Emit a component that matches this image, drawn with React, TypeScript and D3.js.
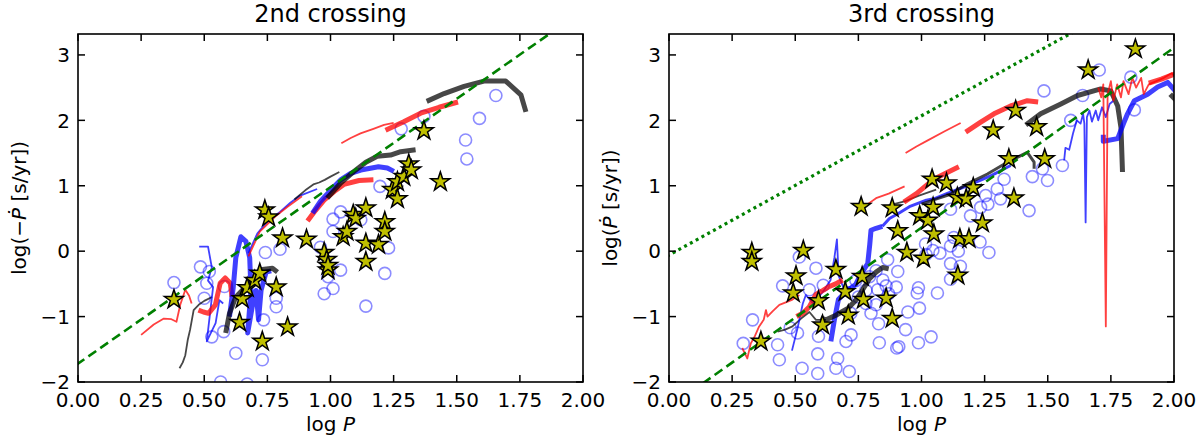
import React from 'react';
import * as d3 from 'd3';

type Pt = [number, number];

// ---- observed stars (yellow) ----
const leftStars: Pt[] = [
  [0.38, -0.74], [0.64, -1.09], [0.65, -0.73], [0.67, -0.56], [0.70, -0.45], [0.72, -0.34],
  [0.73, -1.38], [0.74, 0.63], [0.755, 0.52], [0.785, -0.55], [0.81, 0.20], [0.83, -1.16],
  [0.905, 0.18], [0.975, -0.02], [0.985, -0.13], [0.99, -0.29], [0.99, -0.22], [1.05, 0.22],
  [1.065, 0.30], [1.09, 0.56], [1.10, 0.50], [1.14, 0.66], [1.14, 0.12], [1.14, -0.16],
  [1.19, 0.10], [1.215, 0.45], [1.215, 0.30], [1.245, 0.94], [1.265, 1.06], [1.265, 0.80],
  [1.29, 1.14], [1.31, 1.33], [1.32, 1.24], [1.37, 1.84], [1.435, 1.06],
];

const rightStars: Pt[] = [
  [0.328, -0.02], [0.328, -0.16], [0.364, -1.38], [0.492, -0.64], [0.503, -0.38], [0.532, 0.01],
  [0.592, -0.76], [0.608, -1.13], [0.661, -0.28], [0.698, -0.62], [0.71, -0.98], [0.765, -0.39],
  [0.77, -0.74], [0.761, 0.68], [0.86, -0.72], [0.884, -1.03], [0.884, 0.66], [0.906, 0.31],
  [0.942, -0.02], [0.993, 0.54], [1.008, -0.11], [1.025, 0.47], [1.042, 1.10], [1.046, 0.67],
  [1.049, 0.26], [1.099, 1.04], [1.142, 0.82], [1.144, -0.37], [1.152, 0.19], [1.177, 0.80],
  [1.188, 0.19], [1.205, 0.97], [1.241, 0.43], [1.284, 1.85], [1.346, 1.41], [1.366, 0.81],
  [1.373, 2.15], [1.456, 1.90], [1.488, 1.41], [1.66, 2.77], [1.847, 3.09],
];

// ---- open circles (blue) ----
const leftCircles: Pt[] = [
  [0.38, -0.48], [0.485, -0.24], [0.51, -0.49], [0.52, -0.31], [0.50, -0.72], [0.58, -0.54],
  [0.53, -1.31], [0.577, -1.23], [0.625, -1.56], [0.565, -2.0], [0.67, -2.03], [0.73, -1.66],
  [0.735, -1.05], [0.785, -0.85], [0.785, -0.72], [0.742, -0.02], [0.80, 0.03], [0.96, 0.06],
  [1.01, 0.49], [1.04, 0.60], [1.01, 0.30], [1.12, 0.48], [1.04, -0.29], [0.99, -0.39],
  [1.01, -0.57], [0.975, -0.65], [1.14, -0.84], [1.196, 0.99], [1.23, 0.05], [1.215, -0.34],
  [1.28, 1.87], [1.37, 2.06], [1.535, 1.70], [1.54, 1.41], [1.59, 2.03], [1.655, 2.38],
];

const rightCircles: Pt[] = [
  [0.294, -1.41], [0.331, -1.05], [0.43, -1.43], [0.437, -1.66], [0.45, -0.53], [0.48, -1.17],
  [0.509, -1.25], [0.516, -0.09], [0.527, -1.79], [0.556, -0.59], [0.582, -0.26], [0.589, -1.57],
  [0.589, -1.87], [0.592, -1.30], [0.611, -0.52], [0.661, -1.79], [0.668, -1.64], [0.701, -1.38],
  [0.714, -1.84], [0.721, -1.28], [0.72, -0.95], [0.74, -0.45], [0.75, -0.70], [0.78, -0.60],
  [0.78, -0.80], [0.794, -0.39], [0.80, -0.95], [0.82, -0.82], [0.82, -0.30], [0.827, -0.59],
  [0.83, -1.11], [0.833, -1.40], [0.847, -0.44], [0.86, -0.53], [0.866, -0.13], [0.87, -0.65],
  [0.90, -0.55], [0.902, -1.48], [0.906, -0.31], [0.91, -1.46], [0.937, -1.20], [0.946, -0.93],
  [0.983, -0.64], [0.988, -0.56], [0.992, -0.87], [0.988, -1.40], [1.038, -1.31], [1.063, -0.64],
  [1.018, -0.05], [1.016, 0.11], [1.045, 0.01], [1.073, -0.03], [1.115, 0.08], [1.115, -0.19],
  [1.115, -0.43], [1.128, 0.21], [1.146, 0.0], [1.154, -0.23], [1.115, 0.64], [1.194, 0.54],
  [1.232, 0.14], [1.267, -0.02], [1.234, 0.67], [1.254, 0.85], [1.263, 0.72], [1.30, 0.95],
  [1.313, 0.80], [1.327, 1.10], [1.426, 0.62], [1.439, 1.14], [1.479, 1.26], [1.499, 1.08],
  [1.558, 1.31], [1.485, 2.45], [1.591, 2.00], [1.638, 2.38], [1.704, 2.77], [1.829, 2.66],
  [1.843, 2.16],
];

// ---- model tracks, 2nd crossing ----
const lRedThinA: Pt[] = [[0.25, -1.28], [0.30, -1.12], [0.34, -1.03], [0.37, -1.04], [0.39, -1.08], [0.405, -0.82], [0.425, -0.59], [0.44, -0.68], [0.45, -0.80]];
const lGrayThinA: Pt[] = [[0.402, -1.79], [0.415, -1.70], [0.425, -1.59], [0.435, -1.35], [0.444, -1.20], [0.458, -0.90], [0.478, -0.82], [0.50, -0.76], [0.531, -0.70]];
const lRedThickA: Pt[] = [[0.477, -0.90], [0.497, -0.93], [0.517, -0.95], [0.544, -0.82], [0.563, -0.49], [0.583, -0.41], [0.603, -0.49], [0.61, -0.70]];
const lBlueThinA: Pt[] = [[0.48, 0.07], [0.515, 0.07], [0.53, -0.25], [0.515, -0.45], [0.535, -0.55], [0.51, -1.38], [0.545, -1.10], [0.56, -0.75], [0.575, -0.80]];
const lBlueThickA: Pt[] = [[0.60, -1.0], [0.615, -0.55], [0.625, -0.10], [0.645, 0.22], [0.665, 0.15], [0.68, -0.10], [0.685, -0.60], [0.672, -1.25], [0.69, -0.85], [0.705, -0.60], [0.715, -1.05], [0.725, -0.60], [0.745, -0.32], [0.765, -0.30]];
const lGrayThickA: Pt[] = [[0.585, -1.25], [0.60, -0.95], [0.625, -0.70], [0.65, -0.60], [0.70, -0.42], [0.73, -0.28], [0.77, -0.26], [0.79, -0.32]];
const lBlueThinB: Pt[] = [[0.675, -0.03], [0.71, 0.27], [0.751, 0.46], [0.80, 0.60], [0.841, 0.74], [0.88, 0.85], [0.947, 0.95]];
const lRedThinB: Pt[] = [[0.675, -0.08], [0.72, 0.30], [0.781, 0.53], [0.83, 0.68], [0.887, 0.84]];
const lGrayThinB: Pt[] = [[0.857, 0.79], [0.90, 0.93], [0.932, 1.02], [0.955, 1.05], [0.977, 1.09], [1.0, 1.14], [1.035, 1.21]];
const lRedThickB: Pt[] = [[0.909, 0.46], [0.94, 0.62], [0.977, 0.79], [1.02, 0.93], [1.053, 1.02], [1.113, 1.08], [1.17, 1.09]];
const lBlueThickB: Pt[] = [[0.929, 0.58], [0.96, 0.76], [1.0, 0.93], [1.04, 1.09], [1.08, 1.19], [1.12, 1.24], [1.19, 1.29], [1.225, 1.27], [1.251, 1.22]];
const lGrayThickB: Pt[] = [[0.987, 0.81], [1.04, 1.04], [1.093, 1.22], [1.14, 1.36], [1.185, 1.45], [1.238, 1.47], [1.278, 1.52], [1.337, 1.55]];
const lRedThinC: Pt[] = [[1.043, 1.65], [1.08, 1.73], [1.119, 1.80], [1.17, 1.87], [1.212, 1.93], [1.25, 1.96]];
const lRedThickC: Pt[] = [[1.218, 1.85], [1.29, 1.98], [1.357, 2.11], [1.43, 2.20], [1.505, 2.28]];
const lGrayThickC: Pt[] = [[1.381, 2.29], [1.45, 2.41], [1.529, 2.52], [1.608, 2.60], [1.694, 2.60], [1.754, 2.39], [1.774, 2.13]];

// ---- model tracks, 3rd crossing ----
const rRedThinA: Pt[] = [[0.29, -1.48], [0.31, -1.64], [0.324, -1.41], [0.34, -1.30], [0.357, -1.15], [0.375, -1.05], [0.384, -0.90], [0.39, -1.0], [0.41, -0.92], [0.437, -0.82], [0.47, -0.77], [0.489, -0.74], [0.516, -0.67]];
const rGrayThinA: Pt[] = [[0.43, -1.23], [0.46, -1.20], [0.489, -1.15], [0.523, -1.03], [0.556, -0.93], [0.582, -1.05], [0.622, -1.05]];
const rRedThickA: Pt[] = [[0.505, -1.0], [0.53, -0.95], [0.556, -0.85], [0.582, -0.66], [0.61, -0.60], [0.635, -0.54], [0.66, -0.50], [0.688, -0.44]];
const rBlueThinA: Pt[] = [[0.487, -1.52], [0.509, -1.18], [0.53, -0.80], [0.542, -0.67], [0.57, -0.80], [0.61, -0.62], [0.64, -0.44], [0.655, -0.10], [0.665, 0.18], [0.672, -0.38], [0.69, -0.55], [0.72, -0.55]];
const rBlueThickA: Pt[] = [[0.641, -1.38], [0.655, -1.05], [0.671, -0.74], [0.70, -0.62], [0.739, -0.51], [0.76, -0.35], [0.787, -0.19], [0.795, 0.10], [0.80, 0.32], [0.82, 0.35], [0.845, 0.38]];
const rGrayThickA: Pt[] = [[0.60, -1.02], [0.622, -1.05], [0.661, -0.98], [0.71, -0.87], [0.74, -0.75], [0.767, -0.59], [0.794, -0.42], [0.82, -0.32], [0.846, -0.25], [0.87, -0.27]];
const rRedThinB: Pt[] = [[0.741, 0.58], [0.78, 0.70], [0.82, 0.81], [0.87, 0.88], [0.933, 0.99]];
const rBlueThinB: Pt[] = [[0.845, 0.38], [0.873, 0.50], [0.91, 0.58], [0.952, 0.68], [1.019, 0.78], [1.049, 0.80], [1.10, 0.88], [1.181, 1.0], [1.274, 1.15], [1.353, 1.31]];
const rGrayThinB: Pt[] = [[0.87, 0.70], [0.933, 0.76], [0.99, 0.85], [1.058, 0.94]];
const rRedThickB: Pt[] = [[0.93, 0.75], [0.98, 0.88], [1.049, 1.10], [1.10, 1.20], [1.148, 1.29]];
const rGrayMedB: Pt[] = [[1.0, 0.72], [1.06, 0.80], [1.115, 0.87], [1.181, 1.03], [1.261, 1.18], [1.34, 1.36], [1.419, 1.51], [1.446, 1.36], [1.446, 1.26]];
const rRedThinC: Pt[] = [[0.937, 1.50], [0.98, 1.60], [1.023, 1.69], [1.09, 1.83], [1.155, 1.96]];
const rRedThickC: Pt[] = [[1.175, 1.82], [1.23, 1.96], [1.287, 2.10], [1.353, 2.22], [1.419, 2.30], [1.462, 2.28]];
const rGrayThickC: Pt[] = [[1.413, 1.93], [1.472, 2.10], [1.552, 2.25], [1.618, 2.38], [1.71, 2.48], [1.75, 2.45], [1.777, 2.22], [1.79, 1.89], [1.796, 1.21]];
const rBlueThinC: Pt[] = [[1.565, 1.39], [1.57, 1.58], [1.585, 1.55], [1.60, 1.80], [1.615, 2.0], [1.63, 1.95], [1.64, 2.10], [1.645, 1.95], [1.65, 0.44], [1.655, 2.05], [1.665, 2.15], [1.675, 1.98], [1.69, 2.15], [1.70, 2.0], [1.715, 2.2], [1.73, 2.05], [1.745, 2.25], [1.76, 2.3]];
const rBlueThickC: Pt[] = [[1.72, 1.78], [1.72, 1.68], [1.777, 1.72], [1.80, 1.95], [1.816, 2.10], [1.843, 2.30], [1.896, 2.40], [1.935, 2.51], [1.975, 2.58], [2.01, 2.43]];
const rRedThinD: Pt[] = [[1.70, 2.5], [1.712, 2.35], [1.72, 2.55], [1.73, -1.15], [1.737, 2.4], [1.75, 2.6], [1.76, 2.3], [1.775, 2.55], [1.79, 2.35], [1.80, 2.6], [1.82, 2.4], [1.835, 2.65], [1.85, 2.5], [1.87, 2.65], [1.88, 2.4], [1.9, 2.55], [1.93, 2.6], [1.96, 2.65], [1.99, 2.72], [2.01, 2.65]];
const rRedThickD: Pt[] = [[1.90, 2.57], [1.95, 2.63], [2.01, 2.72]];
const rGrayThickD: Pt[] = [[1.985, 2.40], [2.01, 2.30]];

// ---- reference relations: y = slope * logP + intercept ----
const leftDashed = { slope: 2.7, intercept: -1.72 };
const rightDashed = { slope: 2.75, intercept: -2.39 };
const rightDotted = { slope: 2.13, intercept: -0.06 };

const xTicks = [0, 0.25, 0.5, 0.75, 1.0, 1.25, 1.5, 1.75, 2.0];
const yTicks = [-2, -1, 0, 1, 2, 3];

const RED = '#ff0000';
const BLUE = '#0000ff';
const GRAY = '#000000';
const THIN = 1.8;
const MED = 3;
const THICK = 5;

type Track = { pts: Pt[]; color: string; w: number };

const leftTracks: Track[] = [
  { pts: lRedThinA, color: RED, w: THIN },
  { pts: lGrayThinA, color: GRAY, w: THIN },
  { pts: lBlueThinA, color: BLUE, w: THIN },
  { pts: lRedThickA, color: RED, w: THICK },
  { pts: lBlueThickA, color: BLUE, w: THICK },
  { pts: lGrayThickA, color: GRAY, w: THICK },
  { pts: lBlueThinB, color: BLUE, w: THIN },
  { pts: lRedThinB, color: RED, w: THIN },
  { pts: lGrayThinB, color: GRAY, w: THIN },
  { pts: lRedThickB, color: RED, w: THICK },
  { pts: lBlueThickB, color: BLUE, w: THICK },
  { pts: lGrayThickB, color: GRAY, w: THICK },
  { pts: lRedThinC, color: RED, w: THIN },
  { pts: lRedThickC, color: RED, w: THICK },
  { pts: lGrayThickC, color: GRAY, w: THICK },
];

const rightTracks: Track[] = [
  { pts: rRedThinA, color: RED, w: THIN },
  { pts: rGrayThinA, color: GRAY, w: THIN },
  { pts: rBlueThinA, color: BLUE, w: THIN },
  { pts: rRedThickA, color: RED, w: THICK },
  { pts: rBlueThickA, color: BLUE, w: THICK },
  { pts: rGrayThickA, color: GRAY, w: THICK },
  { pts: rRedThinB, color: RED, w: THIN },
  { pts: rBlueThinB, color: BLUE, w: MED },
  { pts: rGrayThinB, color: GRAY, w: THIN },
  { pts: rRedThickB, color: RED, w: THICK },
  { pts: rGrayMedB, color: GRAY, w: MED },
  { pts: rRedThinC, color: RED, w: THIN },
  { pts: rRedThickC, color: RED, w: THICK },
  { pts: rGrayThickC, color: GRAY, w: THICK },
  { pts: rBlueThinC, color: BLUE, w: THIN },
  { pts: rBlueThickC, color: BLUE, w: THICK },
  { pts: rRedThinD, color: RED, w: THIN },
  { pts: rRedThickD, color: RED, w: THICK },
  { pts: rGrayThickD, color: GRAY, w: THICK },
];

const FONT = 'DejaVu Sans, sans-serif';

type PanelProps = {
  id: string;
  left: number;
  title: string;
  yLabel: React.ReactNode;
  yLabelX: number;
  stars: Pt[];
  circles: Pt[];
  tracks: Track[];
  dashed: { slope: number; intercept: number };
  dotted?: { slope: number; intercept: number };
};

const TOP = 34;
const BOTTOM = 382;
const PW = 505;

const Panel: React.FC<PanelProps> = ({ id, left, title, yLabel, yLabelX, stars, circles, tracks, dashed, dotted }) => {
  const x = d3.scaleLinear().domain([0, 2]).range([left, left + PW]);
  const y = d3.scaleLinear().domain([-2, 3.32]).range([BOTTOM, TOP]);
  const line = d3.line<Pt>().x(d => x(d[0])).y(d => y(d[1]));
  const star = d3.symbol().type(d3.symbolStar).size(112)();
  const rel = (r: { slope: number; intercept: number }): Pt[] =>
    [-0.1, 2.1].map(v => [v, r.slope * v + r.intercept] as Pt);

  return (
    <g>
      <defs>
        <clipPath id={id}>
          <rect x={left} y={TOP} width={PW} height={BOTTOM - TOP} />
        </clipPath>
      </defs>
      <g clipPath={`url(#${id})`}>
        {circles.map((c, i) => (
          <circle key={i} cx={x(c[0])} cy={y(c[1])} r={6} fill="none" stroke="#0000ff" strokeOpacity={0.45} strokeWidth={1.6} />
        ))}
        {tracks.map((t, i) => (
          <path key={i} d={line(t.pts) || ''} fill="none" stroke={t.color} strokeOpacity={t.color === GRAY ? 0.72 : 0.75}
            strokeWidth={t.w} strokeLinejoin="round" />
        ))}
        <path d={line(rel(dashed)) || ''} fill="none" stroke="#008000" strokeWidth={2.6} strokeDasharray="9.5,5" />
        {dotted && (
          <path d={line(rel(dotted)) || ''} fill="none" stroke="#008000" strokeWidth={3.2} strokeDasharray="3,3.6" />
        )}
        {stars.map((s, i) => (
          <path key={i} d={star || ''} transform={`translate(${x(s[0])},${y(s[1])})`} fill="#bfbf00" stroke="#000" strokeWidth={1.5} strokeLinejoin="miter" />
        ))}
      </g>
      <rect x={left} y={TOP} width={PW} height={BOTTOM - TOP} fill="none" stroke="#000" strokeWidth={1.6} />
      {xTicks.map(t => (
        <g key={'x' + t}>
          <line x1={x(t)} x2={x(t)} y1={BOTTOM} y2={BOTTOM - 7} stroke="#000" strokeWidth={1.5} />
          <line x1={x(t)} x2={x(t)} y1={TOP} y2={TOP + 7} stroke="#000" strokeWidth={1.5} />
          <text x={x(t)} y={407} textAnchor="middle" fontSize={20} fontFamily={FONT}>{t.toFixed(2)}</text>
        </g>
      ))}
      {yTicks.map(t => (
        <g key={'y' + t}>
          <line x1={left} x2={left + 7} y1={y(t)} y2={y(t)} stroke="#000" strokeWidth={1.5} />
          <line x1={left + PW} x2={left + PW - 7} y1={y(t)} y2={y(t)} stroke="#000" strokeWidth={1.5} />
          <text x={left - 8} y={y(t) + 7.3} textAnchor="end" fontSize={20} fontFamily={FONT}>{t < 0 ? '\u2212' + Math.abs(t) : String(t)}</text>
        </g>
      ))}
      <text x={left + PW / 2} y={22} textAnchor="middle" fontSize={24} fontFamily={FONT}>{title}</text>
      <text x={left + PW / 2} y={431} textAnchor="middle" fontSize={20} fontFamily={FONT}>
        log <tspan fontStyle="italic">P</tspan>
      </text>
      <text transform={`translate(${yLabelX},${(TOP + BOTTOM) / 2}) rotate(-90)`} textAnchor="middle" fontSize={20} fontFamily={FONT}>
        {yLabel}
      </text>
    </g>
  );
};

const App: React.FC = () => (
  <div style={{ position: 'absolute', left: 0, top: 0, width: 1200, height: 441, background: '#fff' }}>
    <svg width={1200} height={441} style={{ display: 'block' }}>
      <rect width={1200} height={441} fill="#fff" />
      <Panel id="clipL" left={78} title="2nd crossing" yLabelX={26}
        yLabel={<>log(−<tspan fontStyle="italic">Ṗ</tspan> [s/yr])</>}
        stars={leftStars} circles={leftCircles} tracks={leftTracks} dashed={leftDashed} />
      <Panel id="clipR" left={669} title="3rd crossing" yLabelX={617}
        yLabel={<>log(<tspan fontStyle="italic">Ṗ</tspan> [s/yr])</>}
        stars={rightStars} circles={rightCircles} tracks={rightTracks} dashed={rightDashed} dotted={rightDotted} />
    </svg>
  </div>
);

export default App;
